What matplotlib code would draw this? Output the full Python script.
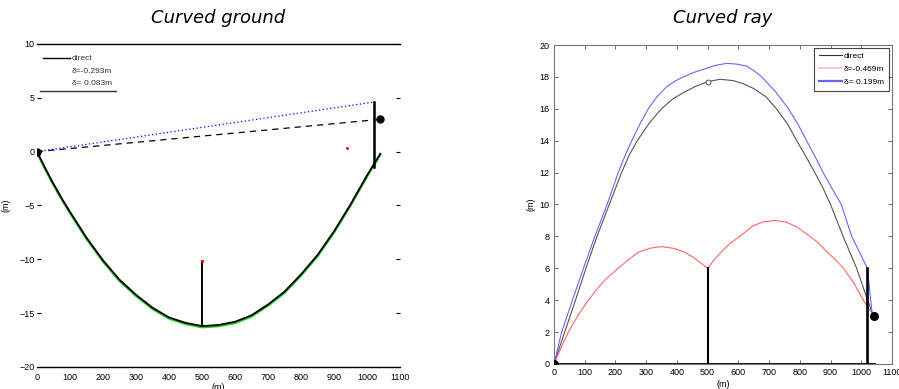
import matplotlib
matplotlib.use("Agg")
import matplotlib.pyplot as plt
from matplotlib.lines import Line2D

# ---------------- Curved ground panel ----------------
ground_x = [0, 25, 50, 75, 100, 150, 200, 250, 300, 350, 400, 450, 500, 550,
            600, 650, 700, 750, 800, 850, 900, 950, 1000, 1020, 1040]
ground_y = [0.0, -1.55, -3.0, -4.35, -5.6, -8.0, -10.1, -11.9, -13.3, -14.5,
            -15.4, -15.9, -16.2, -16.1, -15.8, -15.2, -14.2, -13.0, -11.4,
            -9.6, -7.4, -4.9, -2.2, -1.2, -0.2]

cg_pole_x = [500, 1020]
cg_pole_bottom = [-16.2, -1.4]
cg_pole_top = [-10.2, 4.6]

cg_direct_x = [0, 1040]
cg_direct_y = [0, 3]
cg_refl_x = [0, 1020]
cg_refl_y = [0, 4.6]

cg_ends_x = [0, 1040]
cg_ends_y = [0, 3]

cg_labels = ["direct", "\u03b4=-0.293m", "\u03b4= 0.083m"]

# ---------------- Curved ray panel ----------------
direct_x = [0, 35, 70, 104, 140, 180, 220, 245, 271, 310, 350, 385, 420,
            460, 500, 540, 583, 615, 649, 690, 724, 760, 790, 820, 849, 875,
            900, 941, 985, 1017, 1040]
direct_y = [0, 2, 4, 6, 8, 10, 12, 13.1, 14, 15.1, 16, 16.6, 17.0,
            17.4, 17.7, 17.85, 17.77, 17.58, 17.28, 16.75, 16, 15.05, 14,
            13.0, 12, 11.05, 10, 8, 6, 4.2, 3.0]

red_x = [0, 25, 47, 80, 112, 140, 170, 209, 240, 274, 310, 350, 390, 426,
         460, 500, 520, 540, 573, 605, 648, 680, 719, 755, 790, 833, 860,
         888, 915, 942, 975, 1007, 1020, 1035]
red_y = [0, 1.1, 2, 3.1, 4, 4.7, 5.35, 6, 6.5, 7.0, 7.25, 7.36, 7.25, 7.0,
         6.6, 6.0, 6.5, 6.94, 7.56, 8.0, 8.67, 8.9, 9.0, 8.9, 8.6, 8.0, 7.6,
         7.04, 6.55, 6.0, 5.1, 4.0, 3.6, 3.2]

blue_x = [0, 25, 60, 96, 133, 173, 209, 230, 253, 280, 307, 335, 367, 395,
          421, 455, 486, 525, 562, 595, 627, 650, 676, 720, 763, 795, 822,
          850, 876, 905, 935, 969, 1020, 1035]
blue_y = [0, 2, 4, 6, 8, 10, 12, 13.0, 14, 15.05, 16, 16.75, 17.39, 17.75,
          18, 18.28, 18.47, 18.72, 18.85, 18.8, 18.68, 18.4, 18, 17.1, 16,
          15.0, 14, 13.0, 12, 11.0, 10, 8, 6, 3.2]

cr_pole_x = [500, 1020]
cr_pole_h = [6, 6]
cr_ground_x = [0, 1040]
cr_ground_y = [0, 0]
cr_ends_x = [0, 1040]
cr_ends_y = [0, 3]
cr_marker = (500, 17.7)

cr_labels = ["direct", "\u03b4=-0.469m", "\u03b4= 0.199m"]

tick_font = {"family": "Liberation Sans", "size": 6.5}

fig = plt.figure(figsize=(8.99, 3.89), dpi=100)

# ---- left axes ----
axL = fig.add_axes([0.0412, 0.0566, 0.4038, 0.8304])
axL.plot(ground_x, [g - 0.12 for g in ground_y], color="#22cc22", lw=1.5,
         zorder=2)
axL.plot(ground_x, ground_y, color="black", lw=1.3, zorder=3)
for px, b, t in zip(cg_pole_x, cg_pole_bottom, cg_pole_top):
    axL.plot([px, px], [b, t], color="black", lw=1.4 if px < 1000 else 1.8,
             zorder=3)
axL.plot(cg_pole_x[0], cg_pole_top[0], marker="s", ms=1.2, color="red",
         zorder=4)
axL.plot(cg_direct_x, cg_direct_y, color="black", lw=0.9, ls=(0, (5, 4)),
         zorder=3)
axL.plot(cg_refl_x, cg_refl_y, color="blue", lw=0.9, ls=(0, (1, 2)),
         zorder=3)
axL.plot(cg_ends_x, cg_ends_y, "o", color="black", ms=5, ls="none", zorder=5)
axL.plot([940], [0.3], marker="s", ms=1, color="red", ls="none")

axL.set_xlim(0, 1100)
axL.set_ylim(-20, 10)
axL.set_xticks(range(0, 1101, 100))
axL.set_yticks([-20, -15, -10, -5, 0, 5, 10])
for s in ("left", "right"):
    axL.spines[s].set_visible(False)
for s in ("top", "bottom"):
    axL.spines[s].set_linewidth(1.0)
axL.tick_params(axis="y", direction="in", length=3, width=0.8,
                left=True, right=True, pad=2)
axL.tick_params(axis="x", length=0, pad=4)
for lab in axL.get_xticklabels() + axL.get_yticklabels():
    lab.set_fontfamily("Liberation Sans")
    lab.set_fontsize(6.5)
axL.set_ylabel("(m)", fontdict=tick_font, labelpad=6)
axL.set_xlabel("(m)", fontdict=tick_font, labelpad=1)

handlesL = [Line2D([], [], color="black", lw=1.0),
            Line2D([], [], color="none"),
            Line2D([], [], color="none")]
legL = axL.legend(handlesL, cg_labels, loc="upper left",
                  bbox_to_anchor=(0.0, 0.985), frameon=False,
                  prop={"family": "Liberation Sans", "size": 6},
                  handlelength=3.2, handletextpad=0.3, labelspacing=0.55,
                  borderaxespad=0.3)
for t in legL.get_texts():
    t.set_color("#333333")
axL.add_line(Line2D([0.008, 0.218], [0.854, 0.854], transform=axL.transAxes,
                    color="#333333", lw=1.0))

fig.text(0.2430, 0.954, "Curved ground", ha="center", va="center",
         fontsize=13, style="italic", family="DejaVu Sans")

# ---- right axes ----
axR = fig.add_axes([0.6162, 0.0643, 0.3760, 0.8200])
axR.plot(direct_x, direct_y, color="#555555", lw=0.8, zorder=3,
         label=cr_labels[0])
axR.plot(red_x, red_y, color="#ff6666", lw=0.8, zorder=3,
         label=cr_labels[1])
axR.plot(blue_x, blue_y, color="#6666ff", lw=0.8, zorder=3,
         label=cr_labels[2])
axR.plot([cr_marker[0]], [cr_marker[1]], "o", mfc="white", mec="#555555",
         ms=3.5, mew=0.7, zorder=4)
for px, h in zip(cr_pole_x, cr_pole_h):
    axR.plot([px, px], [0, h], color="black", lw=1.5 if px < 1000 else 1.9,
             zorder=4)
axR.plot(cr_ground_x, cr_ground_y, color="black", lw=2.0, zorder=4)
axR.plot(cr_ends_x, cr_ends_y, "o", color="black", ms=5.5, ls="none",
         zorder=5)

axR.set_xlim(0, 1100)
axR.set_ylim(0, 20)
axR.set_xticks(range(0, 1101, 100))
axR.set_yticks(range(0, 21, 2))
for s in axR.spines.values():
    s.set_color("#777777")
    s.set_linewidth(0.8)
axR.tick_params(direction="in", length=3, width=0.6, top=True, right=True,
                colors="#555555", labelcolor="black", pad=3)
for lab in axR.get_xticklabels() + axR.get_yticklabels():
    lab.set_fontfamily("Liberation Sans")
    lab.set_fontsize(6.5)
axR.set_ylabel("(m)", fontdict=tick_font, labelpad=3)
axR.set_xlabel("(m)", fontdict=tick_font, labelpad=2)

handlesR = [Line2D([], [], color="#333333", lw=0.8),
            Line2D([], [], color="#ffbbbb", lw=1.2),
            Line2D([], [], color="#6666ff", lw=1.6)]
legR = axR.legend(handlesR, cr_labels, loc="upper right",
                  prop={"family": "Liberation Sans", "size": 6},
                  handlelength=2.8, handletextpad=0.25, labelspacing=0.6,
                  borderaxespad=0.3, borderpad=0.6, fancybox=False,
                  edgecolor="#444444", framealpha=1)
legR.get_frame().set_linewidth(0.8)

fig.text(0.8042, 0.954, "Curved ray", ha="center", va="center",
         fontsize=13, style="italic", family="DejaVu Sans")

fig.savefig("out.png", dpi=100)
